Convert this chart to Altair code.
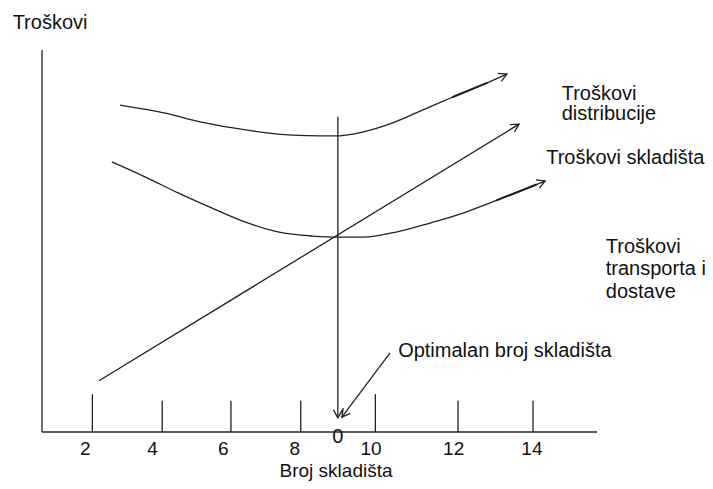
import math
import altair as alt
import pandas as pd

# ---------------- data ----------------
# x: Broj skladišta (number of warehouses), y: Troškovi (cost, arbitrary units 0-100)
dist_x = [2.76, 4.03, 4.94, 5.84, 6.76, 7.47, 8.20, 8.69, 9.10, 10.03, 10.93, 11.82, 12.75, 13.29]
dist_y = [85.6, 83.4, 81.2, 79.6, 78.3, 77.7, 77.5, 77.5, 78.0, 80.4, 84.0, 87.7, 91.4, 93.7]

trans_x = [2.54, 3.44, 4.34, 5.27, 6.16, 7.06, 7.99, 8.67, 9.37, 10.30, 11.20, 12.10, 13.02, 14.33]
trans_y = [70.7, 66.8, 62.6, 58.6, 55.0, 52.4, 51.3, 51.0, 51.0, 52.4, 54.7, 57.3, 60.7, 65.7]

skl_x = [2.19, 13.62]
skl_y = [13.4, 80.6]

optimum_x = 8.69          # optimal number of warehouses (vertical line)
optimum_top = 82.5
optimum_tip = 3.7

note_x = [10.11, 8.80]    # pointer from the "Optimalan broj skladišta" note
note_y = [20.7, 3.9]

axis_x0, axis_x1 = 0.64, 15.74
axis_y1 = 100.0

tick_x = [2.01, 3.91, 5.78, 7.68, 9.71, 11.96, 14.0]
tick_top = [9.9, 8.2, 8.2, 8.2, 9.9, 8.2, 8.2]
tick_labels = ["2", "4", "6", "8", "10", "12", "14"]
tick_label_x = [1.82, 3.65, 5.57, 7.52, 9.59, 11.84, 13.97]

# ---------------- scales ----------------
W, H = 697, 473
XD = [-0.286, 18.68]
YD = [-12.83, 111.0]
KX = W / (XD[1] - XD[0])
KY = H / (YD[1] - YD[0])
xs = alt.Scale(domain=XD, nice=False, zero=False)
ys = alt.Scale(domain=YD, nice=False, zero=False)
INK = "#222222"
FONT = "Liberation Sans"

# curves
rows = []
for name, X, Y in [("dist", dist_x, dist_y), ("trans", trans_x, trans_y)]:
    for i, (a, b) in enumerate(zip(X, Y)):
        rows.append({"series": name, "idx": i, "x": a, "y": b})
curves_df = pd.DataFrame(rows)

# the hand-drawn thicker stroke just before each curved arrow
thick_df = pd.DataFrame([
    {"x": dist_x[-3], "y": dist_y[-3], "x2": dist_x[-2], "y2": dist_y[-2]},
    {"x": trans_x[-2], "y": trans_y[-2], "x2": trans_x[-1] - 0.25,
     "y2": trans_y[-2] + (trans_y[-1] - trans_y[-2]) * (1 - 0.25 / (trans_x[-1] - trans_x[-2]))},
])

# straight segments
seg = [
    {"x": axis_x0, "y": 0, "x2": axis_x0, "y2": axis_y1},
    {"x": axis_x0, "y": 0, "x2": axis_x1, "y2": 0},
    {"x": skl_x[0], "y": skl_y[0], "x2": skl_x[1], "y2": skl_y[1]},
    {"x": optimum_x, "y": optimum_top, "x2": optimum_x, "y2": optimum_tip},
    {"x": note_x[0], "y": note_y[0], "x2": note_x[1], "y2": note_y[1]},
]
for tx, tt in zip(tick_x, tick_top):
    seg.append({"x": tx, "y": 0, "x2": tx, "y2": tt})
seg_df = pd.DataFrame(seg)


def head(x1, y1, x2, y2):
    dx = (x2 - x1) * KX
    dy = -(y2 - y1) * KY
    return {"x": x2, "y": y2, "angle": math.degrees(math.atan2(dy, dx)) % 360}


heads_df = pd.DataFrame([
    head(dist_x[-2], dist_y[-2], dist_x[-1], dist_y[-1]),
    head(trans_x[-2], trans_y[-2], trans_x[-1], trans_y[-1]),
    head(skl_x[0], skl_y[0], skl_x[1], skl_y[1]),
    head(optimum_x, optimum_top, optimum_x, optimum_tip),
    head(note_x[0], note_y[0], note_x[1], note_y[1]),
])

left_text = pd.DataFrame([
    {"x": -0.16, "y": 105.4, "t": "Troškovi"},
    {"x": 10.33, "y": 19.6, "t": "Optimalan broj skladišta"},
    {"x": 14.78, "y": 87.0, "t": "Troškovi"},
    {"x": 14.78, "y": 81.6, "t": "distribucije"},
    {"x": 14.36, "y": 70.08, "t": "Troškovi skladišta"},
    {"x": 15.98, "y": 46.96, "t": "Troškovi"},
    {"x": 15.98, "y": 41.10, "t": "transporta i"},
    {"x": 15.98, "y": 35.18, "t": "dostave"},
])
tick_text = pd.DataFrame([{"x": a, "y": -6.15, "t": t} for a, t in zip(tick_label_x, tick_labels)])
center_text = pd.DataFrame([
    {"x": 8.64, "y": -11.78, "t": "Broj skladišta", "fs": 19},
    {"x": optimum_x, "y": -3.0, "t": "0", "fs": 20},
])

X = lambda f="x": alt.X(f"{f}:Q", scale=xs, axis=None)
Y = lambda f="y": alt.Y(f"{f}:Q", scale=ys, axis=None)

curves = alt.Chart(curves_df).mark_line(
    interpolate="monotone", color=INK, strokeWidth=1.3
).encode(x=X(), y=Y(), detail="series:N", order="idx:Q")

thick = alt.Chart(thick_df).mark_rule(color=INK, strokeWidth=2.1, strokeCap="round").encode(
    x=X(), y=Y(), x2="x2:Q", y2="y2:Q"
)

segments = alt.Chart(seg_df).mark_rule(color=INK, strokeWidth=1.3).encode(
    x=X(), y=Y(), x2="x2:Q", y2="y2:Q"
)

heads = alt.Chart(heads_df).mark_point(
    shape="M -1 -0.55 L 0 0 L -1 0.55", filled=False, size=256,
    strokeWidth=1.3, color=INK, opacity=1
).encode(x=X(), y=Y(), angle=alt.Angle("angle:Q", scale=None))

ltext = alt.Chart(left_text).mark_text(
    align="left", baseline="alphabetic", font=FONT, fontSize=20, color="#111111"
).encode(x=X(), y=Y(), text="t:N")

ttext = alt.Chart(tick_text).mark_text(
    align="center", baseline="alphabetic", font=FONT, fontSize=19, color="#111111"
).encode(x=X(), y=Y(), text="t:N")

ctext = alt.Chart(center_text).mark_text(
    align="center", baseline="alphabetic", font=FONT, color="#111111"
).encode(x=X(), y=Y(), text="t:N", size=alt.Size("fs:Q", scale=None, legend=None))

chart = alt.layer(curves, thick, segments, heads, ltext, ttext, ctext).properties(
    width=W, height=H, autosize=alt.AutoSizeParams(type="none"), padding=0
).configure_view(stroke=None)

chart.save("out.html", embed_options={"renderer": "svg", "actions": False})
